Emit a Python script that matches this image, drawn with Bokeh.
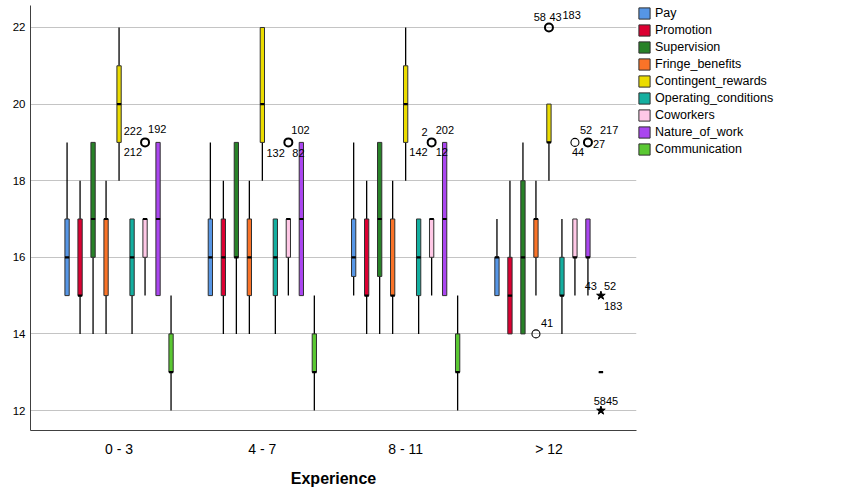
from bokeh.plotting import figure
from bokeh.models import FixedTicker, Legend, LegendItem, ColumnDataSource, Range1d
from bokeh.embed import file_html
from bokeh.resources import INLINE
from bokeh.core.properties import value

groups = ["0 - 3", "4 - 7", "8 - 11", "> 12"]
series = ["Pay", "Promotion", "Supervision", "Fringe_benefits", "Contingent_rewards",
          "Operating_conditions", "Coworkers", "Nature_of_work", "Communication"]
colors = ["#5696E6", "#DC0032", "#288228", "#FA7328", "#EBDC00",
          "#14AFA0", "#FFC8E6", "#AA46F0", "#5AC832"]

# (lower whisker, Q1, median, Q3, upper whisker) for each experience group
pay = [(15, 15, 16, 17, 19), (15, 15, 16, 17, 19), (15, 15.5, 16, 17, 19), (15, 15, 16, 16, 17)]
promotion = [(14, 15, 15, 17, 18), (14, 15, 16, 17, 18), (14, 15, 15, 17, 18), (14, 14, 15, 16, 18)]
supervision = [(14, 16, 17, 19, 19), (14, 16, 16, 19, 19), (14, 15.5, 17, 19, 19), (14, 14, 16, 18, 19)]
fringe_benefits = [(14, 15, 17, 17, 18), (14, 15, 16, 17, 18), (14, 15, 15, 17, 18), (15, 16, 17, 17, 18)]
contingent_rewards = [(18, 19, 20, 21, 22), (18, 19, 20, 22, 22), (18, 19, 20, 21, 22), (18, 19, 19, 20, 20)]
operating_conditions = [(14, 15, 16, 17, 17), (14, 15, 16, 17, 17), (14, 15, 16, 17, 17), (14, 15, 15, 16, 17)]
coworkers = [(15, 16, 17, 17, 17), (15, 16, 17, 17, 17), (15, 16, 17, 17, 17), (15, 16, 16, 17, 17)]
nature_of_work = [(15, 15, 17, 19, 19), (15, 15, 17, 19, 19), (15, 15, 17, 19, 19), (15, 16, 16, 17, 17)]
communication = [(12, 13, 13, 14, 15), (12, 13, 13, 14, 15), (12, 13, 13, 14, 15), (13, 13, 13, 13, 13)]
stats = [pay, promotion, supervision, fringe_benefits, contingent_rewards,
         operating_conditions, coworkers, nature_of_work, communication]

# outliers (circles)
out_group = [0, 1, 2, 3, 3, 3, 3]
out_series = [6, 6, 6, 4, 3, 6, 7]
out_value = [19, 19, 19, 22, 14, 19, 19]
out_thick = [True, True, True, True, False, False, True]

# extremes (stars)
ext_group = [3, 3]
ext_series = [8, 8]
ext_value = [15, 12]

# case labels
lab_group = [0, 0, 0, 1, 1, 1, 2, 2, 2, 2, 3, 3, 3, 3, 3, 3, 3, 3, 3, 3, 3, 3, 3]
lab_series = [6, 6, 6, 6, 6, 6, 6, 6, 6, 6, 4, 4, 4, 6, 6, 7, 7, 3, 8, 8, 8, 8, 8]
lab_value = [19, 19, 19, 19, 19, 19, 19, 19, 19, 19, 22, 22, 22, 19, 19, 19, 19, 14, 15, 15, 15, 12, 12]
lab_text = ["222", "212", "192", "102", "132", "82", "2", "202", "142", "12",
            "58", "43", "183", "52", "44", "217", "27", "41", "43", "52", "183", "58", "45"]
# label placement (px offsets, alignment)
lab_dx = [-3, -3, 3, 3, -3.5, 4, -4, 4, -4, 4, -3, 0.5, 13.5, 5, -3, 12, 5, 5, -4, 3, 3, 5, 5]
lab_dy = [-11, 10, -13, -12, 11, 11, -10, -12, 10, 10, -10, -10, -12, -12, 10, -12, 2, -11, -10, -10, 10, -10, -10]
lab_align = ["right", "right", "left", "left", "right", "left", "right", "left", "right", "left",
             "right", "left", "left", "left", "left", "left", "left", "left", "right", "left", "left",
             "right", "left"]

FONT = "Liberation Sans"
STEP = 0.0907
BOXW = 0.03


def xpos(g, s):
    return g + 0.5 + (s - 4) * STEP


p = figure(frame_width=606, frame_height=425, output_backend="svg", toolbar_location=None,
           x_range=Range1d(-0.118, 4.111), y_range=Range1d(11.478, 22.574),
           min_border_left=30, min_border_top=5, min_border_right=10, min_border_bottom=0)
p.outline_line_color = None
p.background_fill_color = "white"

# axes
p.yaxis.ticker = FixedTicker(ticks=[12, 14, 16, 18, 20, 22])
p.xaxis.ticker = FixedTicker(ticks=[0.5, 1.5, 2.5, 3.5])
p.xaxis.major_label_overrides = {0.5: groups[0], 1.5: groups[1], 2.5: groups[2], 3.5: groups[3]}
for ax in (p.xaxis, p.yaxis):
    ax.major_tick_line_color = None
    ax.minor_tick_line_color = None
    ax.major_tick_out = 0
    ax.major_tick_in = 0
    ax.minor_tick_out = 0
    ax.minor_tick_in = 0
    ax.axis_line_color = "#404040"
    ax.axis_line_width = 1
    ax.major_label_text_font = FONT
    ax.major_label_text_color = "black"
p.yaxis.major_label_text_font_size = "11.5px"
p.yaxis.major_label_standoff = 5
p.xaxis.major_label_text_font_size = "14px"
p.xaxis.major_label_standoff = 10
p.xaxis.axis_label = "Experience"
p.xaxis.axis_label_text_font = FONT
p.xaxis.axis_label_text_font_size = "16px"
p.xaxis.axis_label_text_font_style = "bold"
p.xaxis.axis_label_text_color = "black"
p.xaxis.axis_label_standoff = 10
p.xgrid.grid_line_color = None
p.ygrid.ticker = FixedTicker(ticks=[12, 14, 16, 18, 20, 22])
p.ygrid.grid_line_color = "#c4c4c4"
p.ygrid.grid_line_width = 1.2

legend_items = []
for s, name in enumerate(series):
    xs, lo, q1, med, q3, hi = [], [], [], [], [], []
    for g in range(len(groups)):
        a, b, c, d, e = stats[s][g]
        xs.append(xpos(g, s)); lo.append(a); q1.append(b); med.append(c); q3.append(d); hi.append(e)
    src = ColumnDataSource(dict(x=xs, lo=lo, q1=q1, med=med, q3=q3, hi=hi,
                                xl=[x - BOXW / 2 for x in xs], xr=[x + BOXW / 2 for x in xs]))
    p.segment(x0="x", y0="q3", x1="x", y1="hi", source=src, line_color="black", line_width=1.3)
    p.segment(x0="x", y0="lo", x1="x", y1="q1", source=src, line_color="black", line_width=1.3)
    r = p.vbar(x="x", bottom="q1", top="q3", width=BOXW, source=src,
               fill_color=colors[s], line_color="#303030", line_width=1)
    p.segment(x0="xl", y0="med", x1="xr", y1="med", source=src, line_color="black", line_width=2.2)
    legend_items.append(LegendItem(label=name, renderers=[r]))

ox = [xpos(g, s) for g, s in zip(out_group, out_series)]
thick_x = [x for x, t in zip(ox, out_thick) if t]
thick_y = [v for v, t in zip(out_value, out_thick) if t]
thin_x = [x for x, t in zip(ox, out_thick) if not t]
thin_y = [v for v, t in zip(out_value, out_thick) if not t]
p.scatter(thick_x, thick_y, marker="circle", size=8, fill_color=None, line_color="black", line_width=2)
p.scatter(thin_x, thin_y, marker="circle", size=8, fill_color=None, line_color="black", line_width=1.1)

ex = [xpos(g, s) for g, s in zip(ext_group, ext_series)]
p.scatter(ex, ext_value, marker="star", size=9, fill_color="black", line_color="black")

lx = [xpos(g, s) for g, s in zip(lab_group, lab_series)]
lsrc = ColumnDataSource(dict(x=lx, y=lab_value, t=lab_text, dx=lab_dx, dy=lab_dy, al=lab_align))
p.text(x="x", y="y", text="t", x_offset="dx", y_offset="dy", text_align="al", source=lsrc,
       text_baseline="middle", text_font=value(FONT), text_font_size="11px", text_color="black")

legend = Legend(items=legend_items, location="top_left", glyph_width=14, glyph_height=14,
                label_height=14, label_text_font=FONT, label_text_font_size="12.5px",
                label_text_color="black", spacing=3, padding=0, margin=1, label_standoff=4,
                border_line_color=None, background_fill_alpha=0)
p.add_layout(legend, "right")

open("out.html", "w").write(file_html(p, INLINE))
